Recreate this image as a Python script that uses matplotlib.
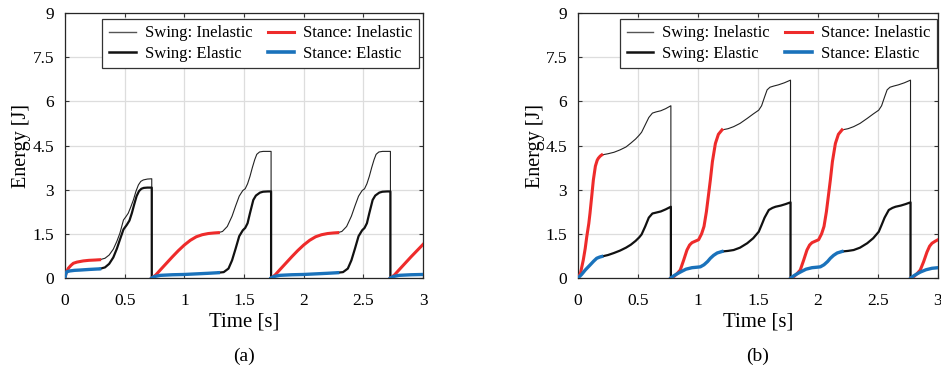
import numpy as np
import matplotlib
matplotlib.use('Agg')
import matplotlib.pyplot as plt

plt.rcParams['font.family'] = 'Liberation Serif'
plt.rcParams['mathtext.fontset'] = 'stix'

nan = np.nan

# ---------------- panel (a) ----------------
# stance, inelastic (red)
a_st_inel_t = [0, 0.01, 0.028, 0.05, 0.07, 0.1, 0.153, 0.2, 0.25, 0.29, nan,
               0.727, 0.76, 0.8, 0.85, 0.9, 0.95, 1.0, 1.05, 1.1, 1.15, 1.2, 1.25, 1.285, nan,
               1.727, 1.76, 1.8, 1.85, 1.9, 1.95, 2.0, 2.05, 2.1, 2.15, 2.2, 2.25, 2.285, nan,
               2.727, 2.76, 2.8, 2.85, 2.9, 2.95, 3.0]
a_st_inel_e = [0, 0.18, 0.33, 0.43, 0.5, 0.54, 0.58, 0.6, 0.61, 0.62, nan,
               0, 0.1, 0.28, 0.5, 0.72, 0.93, 1.12, 1.28, 1.4, 1.47, 1.51, 1.53, 1.54, nan,
               0, 0.1, 0.28, 0.5, 0.72, 0.93, 1.12, 1.28, 1.4, 1.47, 1.51, 1.53, 1.54, nan,
               0, 0.1, 0.28, 0.5, 0.72, 0.93, 1.14]
# stance, elastic (blue)
a_st_el_t = [0, 0.005, 0.014, 0.04, 0.08, 0.126, 0.2, 0.29, nan,
             0.727, 0.75, 0.8, 0.9, 1.0, 1.1, 1.2, 1.285, nan,
             1.727, 1.75, 1.8, 1.9, 2.0, 2.1, 2.2, 2.285, nan,
             2.727, 2.75, 2.8, 2.9, 3.0]
a_st_el_e = [0, 0.12, 0.21, 0.24, 0.26, 0.27, 0.29, 0.31, nan,
             0, 0.05, 0.09, 0.11, 0.12, 0.14, 0.16, 0.18, nan,
             0, 0.05, 0.09, 0.11, 0.12, 0.14, 0.16, 0.18, nan,
             0, 0.05, 0.09, 0.11, 0.12]
# swing, inelastic (thin black)
a_sw_inel_t = [0.29, 0.335, 0.37, 0.405, 0.435, 0.46, 0.49, 0.51, 0.53, 0.55, 0.573, 0.595, 0.615, 0.635, 0.656, 0.69, 0.727, 0.727, nan,
               1.285, 1.32, 1.36, 1.4, 1.43, 1.46, 1.49, 1.51, 1.53, 1.55, 1.57, 1.59, 1.607, 1.63, 1.66, 1.69, 1.727, 1.727, nan,
               2.285, 2.32, 2.36, 2.4, 2.43, 2.46, 2.49, 2.51, 2.53, 2.55, 2.57, 2.59, 2.607, 2.63, 2.66, 2.69, 2.727, 2.727]
a_sw_inel_e = [0.62, 0.67, 0.78, 0.98, 1.25, 1.52, 1.97, 2.08, 2.2, 2.4, 2.65, 2.95, 3.16, 3.28, 3.33, 3.36, 3.37, 0, nan,
               1.54, 1.58, 1.75, 2.1, 2.45, 2.78, 2.97, 3.03, 3.2, 3.45, 3.75, 4.02, 4.2, 4.28, 4.3, 4.3, 4.3, 0, nan,
               1.54, 1.58, 1.75, 2.1, 2.45, 2.78, 2.97, 3.03, 3.2, 3.45, 3.75, 4.02, 4.2, 4.28, 4.3, 4.3, 4.3, 0]
# swing, elastic (thick black)
a_sw_el_t = [0.29, 0.335, 0.37, 0.405, 0.435, 0.46, 0.49, 0.517, 0.54, 0.56, 0.58, 0.6, 0.62, 0.64, 0.66, 0.69, 0.727, 0.727, nan,
             1.285, 1.33, 1.37, 1.4, 1.43, 1.46, 1.49, 1.51, 1.53, 1.55, 1.578, 1.6, 1.634, 1.66, 1.7, 1.727, 1.727, nan,
             2.285, 2.33, 2.37, 2.4, 2.43, 2.46, 2.49, 2.51, 2.53, 2.55, 2.578, 2.6, 2.634, 2.66, 2.7, 2.727, 2.727]
a_sw_el_e = [0.31, 0.36, 0.48, 0.7, 1.0, 1.3, 1.65, 1.8, 1.95, 2.2, 2.5, 2.78, 2.95, 3.03, 3.06, 3.07, 3.07, 0, nan,
             0.18, 0.2, 0.32, 0.6, 1.0, 1.42, 1.62, 1.7, 1.86, 2.2, 2.65, 2.8, 2.9, 2.93, 2.94, 2.94, 0, nan,
             0.18, 0.2, 0.32, 0.6, 1.0, 1.42, 1.62, 1.7, 1.86, 2.2, 2.65, 2.8, 2.9, 2.93, 2.94, 2.94, 0]

# ---------------- panel (b) ----------------
b_st_inel_t = [0, 0.02, 0.044, 0.06, 0.073, 0.09, 0.1, 0.115, 0.128, 0.145, 0.16, 0.17, 0.185, 0.198, nan,
               0.774, 0.8, 0.83, 0.852, 0.88, 0.908, 0.93, 0.95, 0.977, 1.005, 1.03, 1.05, 1.07, 1.09, 1.103, 1.12, 1.145, 1.17, 1.2, nan,
               1.774, 1.8, 1.83, 1.852, 1.88, 1.908, 1.93, 1.95, 1.977, 2.005, 2.03, 2.05, 2.07, 2.09, 2.103, 2.12, 2.145, 2.17, 2.2, nan,
               2.774, 2.8, 2.83, 2.852, 2.88, 2.908, 2.93, 2.95, 2.977, 3.0]
b_st_inel_e = [0, 0.15, 0.61, 1.0, 1.4, 1.85, 2.2, 2.8, 3.33, 3.8, 4.0, 4.07, 4.14, 4.18, nan,
               0, 0.05, 0.17, 0.27, 0.6, 0.95, 1.12, 1.2, 1.25, 1.3, 1.5, 1.75, 2.25, 2.9, 3.33, 3.95, 4.57, 4.88, 5.03, nan,
               0, 0.05, 0.17, 0.27, 0.6, 0.95, 1.12, 1.2, 1.25, 1.3, 1.5, 1.75, 2.25, 2.9, 3.33, 3.95, 4.57, 4.88, 5.03, nan,
               0, 0.05, 0.17, 0.27, 0.55, 0.88, 1.08, 1.18, 1.25, 1.3]
b_st_el_t = [0, 0.03, 0.06, 0.1, 0.13, 0.156, 0.18, 0.198, nan,
             0.774, 0.8, 0.852, 0.9, 0.95, 1.0, 1.02, 1.05, 1.08, 1.103, 1.13, 1.16, 1.2, nan,
             1.774, 1.8, 1.852, 1.9, 1.95, 2.0, 2.02, 2.05, 2.08, 2.103, 2.13, 2.16, 2.2, nan,
             2.774, 2.8, 2.852, 2.9, 2.95, 3.0]
b_st_el_e = [0, 0.12, 0.27, 0.44, 0.57, 0.67, 0.71, 0.73, nan,
             0, 0.08, 0.2, 0.3, 0.35, 0.37, 0.38, 0.45, 0.56, 0.67, 0.77, 0.85, 0.9, nan,
             0, 0.08, 0.2, 0.3, 0.35, 0.37, 0.38, 0.45, 0.56, 0.67, 0.77, 0.85, 0.9, nan,
             0, 0.08, 0.2, 0.28, 0.33, 0.35]
b_sw_inel_t = [0.198, 0.25, 0.3, 0.35, 0.4, 0.44, 0.48, 0.51, 0.53, 0.56, 0.59, 0.62, 0.65, 0.69, 0.73, 0.774, 0.774, nan,
               1.2, 1.25, 1.297, 1.35, 1.41, 1.46, 1.506, 1.53, 1.555, 1.576, 1.6, 1.632, 1.67, 1.72, 1.771, 1.771, nan,
               2.2, 2.25, 2.297, 2.35, 2.41, 2.46, 2.506, 2.53, 2.555, 2.576, 2.6, 2.632, 2.67, 2.72, 2.771, 2.771]
b_sw_inel_e = [4.18, 4.22, 4.27, 4.35, 4.45, 4.58, 4.72, 4.85, 4.95, 5.2, 5.45, 5.6, 5.64, 5.68, 5.75, 5.85, 0, nan,
               5.03, 5.07, 5.14, 5.25, 5.42, 5.57, 5.7, 5.85, 6.15, 6.39, 6.48, 6.52, 6.56, 6.63, 6.72, 0, nan,
               5.03, 5.07, 5.14, 5.25, 5.42, 5.57, 5.7, 5.85, 6.15, 6.39, 6.48, 6.52, 6.56, 6.63, 6.72, 0]
b_sw_el_t = [0.198, 0.25, 0.3, 0.35, 0.4, 0.44, 0.48, 0.51, 0.53, 0.56, 0.59, 0.62, 0.65, 0.69, 0.73, 0.774, 0.774, nan,
             1.2, 1.25, 1.297, 1.35, 1.41, 1.46, 1.506, 1.53, 1.555, 1.59, 1.62, 1.646, 1.69, 1.73, 1.771, 1.771, nan,
             2.2, 2.25, 2.297, 2.35, 2.41, 2.46, 2.506, 2.53, 2.555, 2.59, 2.62, 2.646, 2.69, 2.73, 2.771, 2.771]
b_sw_el_e = [0.73, 0.78, 0.85, 0.93, 1.03, 1.13, 1.26, 1.38, 1.48, 1.75, 2.05, 2.19, 2.22, 2.26, 2.33, 2.42, 0, nan,
             0.9, 0.92, 0.95, 1.03, 1.18, 1.35, 1.57, 1.8, 2.05, 2.31, 2.38, 2.42, 2.46, 2.51, 2.57, 0, nan,
             0.9, 0.92, 0.95, 1.03, 1.18, 1.35, 1.57, 1.8, 2.05, 2.31, 2.38, 2.42, 2.46, 2.51, 2.57, 0]

x_ticks = [0, 0.5, 1, 1.5, 2, 2.5, 3]
x_ticklabels = ['0', '0.5', '1', '1.5', '2', '2.5', '3']
y_ticks = [0, 1.5, 3, 4.5, 6, 7.5, 9]
y_ticklabels = ['0', '1.5', '3', '4.5', '6', '7.5', '9']

RED = '#ee2b2b'
BLUE = '#1a72bb'


def draw_panel(ax, sw_inel, sw_el, st_inel, st_el, tag, leg_x, ylab_x):
    ax.plot(*sw_inel, color='#222222', lw=0.8, zorder=3)
    ax.plot(*sw_el, color='#111111', lw=1.6, zorder=3)
    ax.plot(*st_inel, color=RED, lw=2.2, zorder=4)
    ax.plot(*st_el, color=BLUE, lw=2.4, zorder=4)

    ax.set_xlim(0, 3)
    ax.set_ylim(0, 9)
    ax.set_xticks(x_ticks)
    ax.set_xticklabels(x_ticklabels)
    ax.set_yticks(y_ticks)
    ax.set_yticklabels(y_ticklabels)
    ax.tick_params(direction='in', top=True, right=True, labelsize=12.5,
                   length=3, width=0.8, color='#333333')
    ax.tick_params(axis='x', pad=11)
    ax.tick_params(axis='y', pad=8)
    for s in ax.spines.values():
        s.set_color('#262626')
        s.set_linewidth(0.9)
    ax.grid(color='#dddddd', lw=0.9)
    ax.set_axisbelow(True)

    ax.set_xlabel('Time [s]', fontsize=15, labelpad=2)
    ax.set_ylabel('Energy [J]', fontsize=14.5)
    ax.yaxis.set_label_coords(ylab_x, 0.5)
    ax.text(0.5, -0.262, tag, transform=ax.transAxes, ha='center', va='top', fontsize=14)

    # legend handles: thin grey for inelastic swing like the original
    h1 = plt.Line2D([], [], color='#555555', lw=1.0)
    h2 = plt.Line2D([], [], color='#111111', lw=1.8)
    h3 = plt.Line2D([], [], color=RED, lw=2.2)
    h4 = plt.Line2D([], [], color=BLUE, lw=2.6)
    leg = ax.legend([h1, h2, h3, h4],
                    ['Swing: Inelastic', 'Swing: Elastic', 'Stance: Inelastic', 'Stance: Elastic'],
                    ncol=2, loc='upper right', bbox_to_anchor=(leg_x, 0.978),
                    fontsize=12, fancybox=False, framealpha=1, edgecolor='#333333',
                    handlelength=1.6, handletextpad=0.55, columnspacing=0.9,
                    labelspacing=0.25, borderpad=0.4, borderaxespad=0)
    leg.get_frame().set_linewidth(0.9)
    leg.set_zorder(10)


fig = plt.figure(figsize=(9.41, 3.70), dpi=100)
ax_a = fig.add_axes([65 / 941, 1 - 278 / 370, 358 / 941, 265 / 370])
ax_b = fig.add_axes([578 / 941, 1 - 278 / 370, 360 / 941, 265 / 370])

draw_panel(ax_a, (a_sw_inel_t, a_sw_inel_e), (a_sw_el_t, a_sw_el_e),
           (a_st_inel_t, a_st_inel_e), (a_st_el_t, a_st_el_e), '(a)', 0.99, -0.095)
draw_panel(ax_b, (b_sw_inel_t, b_sw_inel_e), (b_sw_el_t, b_sw_el_e),
           (b_st_inel_t, b_st_inel_e), (b_st_el_t, b_st_el_e), '(b)', 0.997, -0.091)

fig.savefig('out.png', dpi=100)
